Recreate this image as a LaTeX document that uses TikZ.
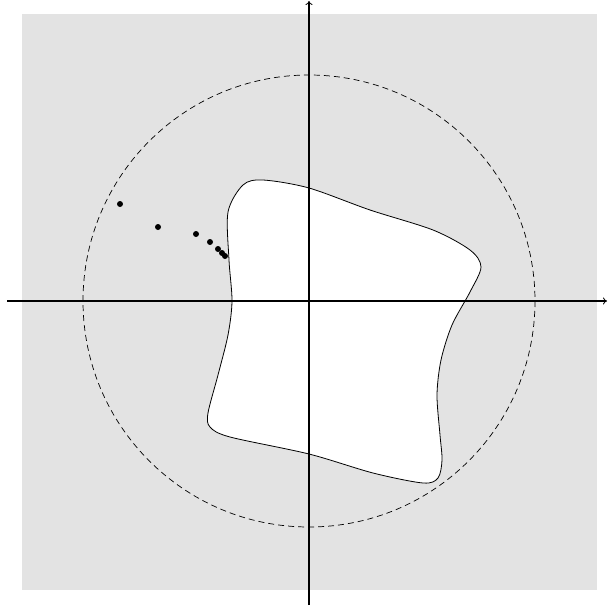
\documentclass[tikz,border=0pt]{standalone}
\usetikzlibrary{arrows.meta}
\begin{document}
\begin{tikzpicture}[x=1pt,y=-1pt,
  axis/.style={line width=1.6pt,-{To[length=4pt,width=7pt,line width=0.8pt]}},
  blob/.style={fill=white,draw=black,line width=0.8pt},
  dotmark/.style={circle,fill=black,inner sep=0pt,minimum size=6pt}]
\useasboundingbox (0,0) rectangle (608,608);
\fill[gray!22] (22,14) rectangle (597,590);
\draw[dashed,line width=0.7pt,dash pattern=on 6pt off 4pt] (309,301) circle[radius=226];
\draw[blob] plot[smooth cycle,tension=0.5] coordinates {
 (263,180) (309,188) (370,210) (433,230) (470,250) (481,267) (470,292)
 (452,325) (441,360) (437,395) (440,435) (442,460) (438,478) (423,483) (373,473) (309,454)
 (230,437) (210,427) (208,413) (218,375) (228,335) (232,301) (229,260) (228,212) (243,185)};
\coordinate (xs) at (7,301); \coordinate (xe) at (607,301);
\coordinate (ys) at (309,605); \coordinate (ye) at (309,1);
\draw[axis] (xs) -- (xe);
\draw[axis] (ys) -- (ye);
\foreach \p [count=\i] in {(120,204),(158,227),(196,234),(210,242),(218,249),(222,253),(225,256)}
  \node[dotmark] (d\i) at \p {};
\end{tikzpicture}
\end{document}
